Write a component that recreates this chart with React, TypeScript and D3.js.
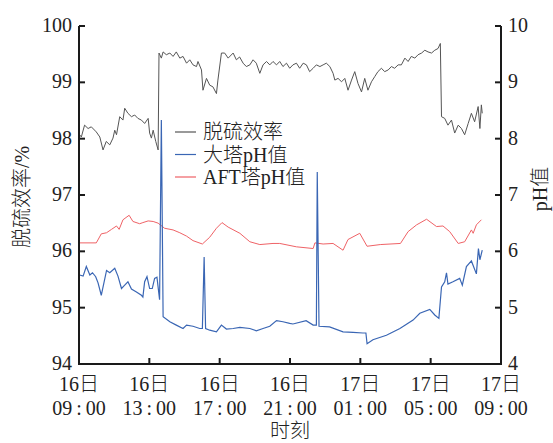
import React from 'react';
import * as d3 from 'd3';

// x tick labels (two lines each)
const xTickDays = ['16日', '16日', '16日', '16日', '17日', '17日', '17日'];
const xTickTimes = ['09\u2009:\u200900', '13\u2009:\u200900', '17\u2009:\u200900', '21\u2009:\u200900', '01\u2009:\u200900', '05\u2009:\u200900', '09\u2009:\u200900'];
const xTickHours = [0, 4, 8, 12, 16, 20, 24];
const leftTicks = [94, 95, 96, 97, 98, 99, 100];
const rightTicks = [4, 5, 6, 7, 8, 9, 10];

// 脱硫效率 (%): minutes after 16日 09:00
const effMinutes = [
  2, 8, 19, 31, 42, 59, 71, 82, 93, 105, 116, 122, 128, 139, 150, 156, 167, 179, 190, 201,
  213, 224, 236, 241, 247, 253, 262, 270, 273, 281, 287, 298, 310, 321, 332, 344, 355, 367, 378, 389,
  401, 406, 418, 423, 435, 446, 457, 469, 474, 486, 497, 509, 526, 537, 548, 560, 571, 583, 594, 605,
  617, 628, 640, 651, 662, 674, 685, 696, 708, 719, 730, 742, 753, 765, 776, 787, 799, 810, 822, 833,
  844, 856, 867, 873, 884, 896, 907, 918, 930, 941, 952, 964, 975, 986, 998, 1009, 1020, 1032, 1043, 1055,
  1066, 1077, 1089, 1100, 1112, 1123, 1134, 1146, 1157, 1169, 1180, 1191, 1203, 1214, 1225, 1233, 1237, 1248, 1259, 1271,
  1282, 1294, 1305, 1316, 1328, 1339, 1350, 1362, 1368, 1373, 1376,
];
const effValues = [
  98.07, 98.03, 98.24, 98.18, 98.21, 98.12, 98.03, 97.8, 97.95, 97.89, 98.01, 98.15, 98.07, 98.39, 98.33, 98.54, 98.45, 98.39, 98.42, 98.36,
  98.33, 98.27, 98.36, 98.1, 98.01, 98.15, 97.95, 97.8, 99.52, 99.43, 99.54, 99.49, 99.52, 99.46, 99.54, 99.43, 99.46, 99.34, 99.4, 99.31,
  99.28, 99.37, 99.22, 98.86, 99.07, 98.95, 98.92, 98.8, 99.04, 99.52, 99.52, 99.43, 99.52, 99.4, 99.45, 99.34, 99.28, 99.31, 99.4, 99.34,
  99.16, 99.31, 99.37, 99.31, 99.37, 99.31, 99.37, 99.28, 99.34, 99.25, 99.31, 99.34, 99.25, 99.34, 99.31, 99.19, 99.25, 99.31, 99.28, 99.31,
  99.34, 99.28, 99.16, 99.04, 99.07, 99.01, 99.07, 98.86, 99.04, 99.19, 98.98, 98.83, 99.07, 98.86, 99.01, 99.1, 99.19, 99.25, 99.19, 99.22,
  99.28, 99.25, 99.31, 99.31, 99.43, 99.37, 99.46, 99.43, 99.49, 99.52, 99.57, 99.54, 99.52, 99.57, 99.6, 99.69, 98.39, 98.36, 98.24, 98.33,
  98.1, 98.24, 98.18, 98.07, 98.27, 98.45, 98.3, 98.57, 98.18, 98.6, 98.45,
];

// 大塔pH值
const bigMinutes = [
  2, 14, 25, 37, 46, 57, 65, 76, 94, 105, 122, 133, 145, 156, 167, 179, 196, 213, 218, 224,
  232, 241, 250, 258, 266, 275, 281, 287, 310, 332, 355, 367, 389, 412, 421, 427, 432, 446, 469, 486,
  503, 526, 549, 583, 605, 628, 651, 674, 696, 719, 730, 775, 799, 810, 813, 819, 855, 901, 935, 969,
  979, 983, 1003, 1049, 1095, 1140, 1163, 1197, 1214, 1228, 1237, 1248, 1254, 1259, 1276, 1299, 1308, 1322, 1339, 1356,
  1363, 1368, 1376,
];
const bigPH = [
  5.58, 5.56, 5.73, 5.58, 5.62, 5.55, 5.44, 5.22, 5.66, 5.62, 5.7, 5.56, 5.34, 5.4, 5.46, 5.33, 5.28, 5.22, 5.19, 5.46,
  5.55, 5.34, 5.34, 5.52, 5.54, 5.14, 8.33, 4.84, 4.75, 4.69, 4.63, 4.69, 4.67, 4.63, 4.63, 5.9, 4.63, 4.6, 4.57, 4.69,
  4.62, 4.63, 4.65, 4.63, 4.59, 4.63, 4.67, 4.77, 4.75, 4.72, 4.71, 4.77, 4.69, 4.69, 7.41, 4.67, 4.66, 4.57, 4.56, 4.55,
  4.55, 4.36, 4.43, 4.51, 4.63, 4.78, 4.9, 4.97, 4.87, 4.81, 5.37, 5.46, 5.62, 5.42, 5.46, 5.52, 5.4, 5.73, 5.83, 5.6,
  6.05, 5.85, 6.02,
];

// AFT塔pH值
const aftMinutes = [
  2, 59, 76, 94, 111, 128, 137, 150, 171, 184, 207, 218, 236, 253, 270, 292, 321, 344, 367, 389,
  421, 446, 469, 488, 509, 549, 583, 617, 662, 685, 742, 799, 805, 833, 867, 901, 918, 958, 983, 1028,
  1097, 1123, 1152, 1186, 1220, 1242, 1265, 1294, 1316, 1339, 1345, 1356, 1373,
];
const aftPH = [
  6.15, 6.15, 6.31, 6.33, 6.39, 6.45, 6.39, 6.56, 6.64, 6.53, 6.49, 6.51, 6.54, 6.53, 6.5, 6.41, 6.38, 6.33, 6.27, 6.19,
  6.13, 6.25, 6.41, 6.51, 6.43, 6.32, 6.17, 6.12, 6.14, 6.14, 6.08, 6.05, 6.15, 6.13, 6.14, 6.02, 6.21, 6.32, 6.09, 6.12,
  6.14, 6.35, 6.47, 6.57, 6.44, 6.45, 6.35, 6.14, 6.17, 6.38, 6.32, 6.47, 6.56,
];

const legendNames = ['脱硫效率', '大塔pH值', 'AFT塔pH值'];
const legendColors = ['#555555', '#3a66b4', '#ef6266'];

const W = 553;
const H = 443;
const X0 = 79;
const X1 = 501;
const Y0 = 26;
const Y1 = 364;
const FONT = "'Liberation Serif', 'Times New Roman', 'Noto Sans CJK SC', serif";

export default function App() {
  const start = new Date(2020, 0, 16, 9, 0, 0);
  const toDate = (m: number) => new Date(start.getTime() + m * 60000);
  const x = d3.scaleTime().domain([start, d3.timeHour.offset(start, 24)]).range([X0, X1]);
  const yL = d3.scaleLinear().domain([94, 100]).range([Y1, Y0]);
  const yR = d3.scaleLinear().domain([4, 10]).range([Y1, Y0]);
  const xTicks = xTickHours.map((h) => d3.timeHour.offset(start, h));

  const effLine = d3
    .line<number>()
    .x((_, i) => x(toDate(effMinutes[i])))
    .y((d) => yL(d))(effValues) as string;
  const bigLine = d3
    .line<number>()
    .x((_, i) => x(toDate(bigMinutes[i])))
    .y((d) => yR(d))(bigPH) as string;
  const aftLine = d3
    .line<number>()
    .x((_, i) => x(toDate(aftMinutes[i])))
    .y((d) => yR(d))(aftPH) as string;

  return (
    <svg
      width={W}
      height={H}
      style={{ position: 'absolute', left: 0, top: 0, background: '#fff' }}
      fontFamily={FONT}
    >
      <rect x={0} y={0} width={W} height={H} fill="#fff" />
      {/* series */}
      <path d={aftLine} fill="none" stroke={legendColors[2]} strokeWidth={1} />
      <path d={bigLine} fill="none" stroke={legendColors[1]} strokeWidth={1.2} />
      <path d={effLine} fill="none" stroke={legendColors[0]} strokeWidth={1} />

      {/* axes */}
      <g stroke="#1a1a1a" strokeWidth={2} fill="none">
        <line x1={X0} y1={Y0} x2={X0} y2={Y1 + 1} />
        <line x1={X1} y1={Y0} x2={X1} y2={Y1 + 1} />
        <line x1={X0 - 1} y1={Y1} x2={X1 + 1} y2={Y1} />
        {leftTicks.map((t) => (
          <line key={'l' + t} x1={X0} x2={X0 + 6} y1={yL(t)} y2={yL(t)} />
        ))}
        {rightTicks.map((t) => (
          <line key={'r' + t} x1={X1 - 6} x2={X1} y1={yR(t)} y2={yR(t)} />
        ))}
        {xTicks.map((t, i) => (
          <line key={'x' + i} x1={x(t)} x2={x(t)} y1={Y1} y2={Y1 - 6} />
        ))}
      </g>

      <g fontSize={20} fill="#222" fontWeight={300}>
        {leftTicks.map((t) => (
          <text key={'lt' + t} x={72} y={yL(t)} dy="0.3em" textAnchor="end">
            {t}
          </text>
        ))}
        {rightTicks.map((t) => (
          <text key={'rt' + t} x={508} y={yR(t)} dy="0.3em" textAnchor="start">
            {t}
          </text>
        ))}
        {xTicks.map((t, i) => (
          <g key={'xt' + i}>
            <text x={x(t)} y={391} textAnchor="middle">
              {xTickDays[i]}
            </text>
            <text x={x(t)} y={415} textAnchor="middle">
              {xTickTimes[i]}
            </text>
          </g>
        ))}
        <text x={(X0 + X1) / 2} y={438} textAnchor="middle">
          时刻
        </text>
        <text transform={`translate(29,197) rotate(-90)`} textAnchor="middle">
          脱硫效率/%
        </text>
        <text transform={`translate(547,189) rotate(-90)`} textAnchor="middle">
          pH值
        </text>
      </g>

      {/* legend */}
      <g fontSize={20} fill="#222" fontWeight={300}>
        {legendNames.map((n, i) => (
          <g key={n} transform={`translate(175,${132 + i * 22.5})`}>
            <line x1={0} x2={21} y1={0} y2={0} stroke={legendColors[i]} strokeWidth={1.2} />
            <text x={28} y={0} dy="0.35em">
              {n}
            </text>
          </g>
        ))}
      </g>
    </svg>
  );
}
